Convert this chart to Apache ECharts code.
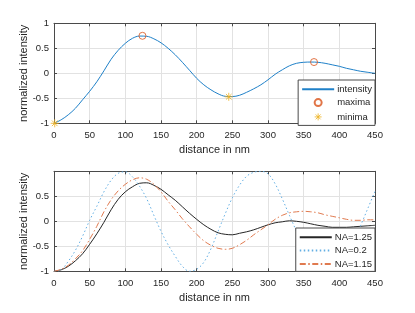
<!DOCTYPE html>
<html>
<head>
<meta charset="utf-8">
<script src="https://cdn.jsdelivr.net/npm/echarts@6/dist/echarts.min.js"></script>
<style>
html,body{margin:0;padding:0;background:#fff;}
#c{width:415px;height:313px;}
</style>
</head>
<body>
<div id="c"></div>
<script>
// ---------- data ----------
var xTicks = [0, 50, 100, 150, 200, 250, 300, 350, 400, 450];
var yTicks = [-1, -0.5, 0, 0.5, 1];

var distance = [0,10,20,30,40,50,60,70,80,90,100,110,120,130,140,150,160,170,180,190,200,
  210,220,230,240,250,260,270,280,290,300,310,320,330,340,350,360,370,380,390,400,
  410,420,430,440,450];

var intensity = [-1.00,-0.93,-0.83,-0.70,-0.53,-0.36,-0.17,0.05,0.28,0.46,0.60,0.70,0.745,0.74,0.69,0.61,0.50,0.37,0.22,0.06,-0.10,
  -0.23,-0.33,-0.41,-0.46,-0.465,-0.44,-0.38,-0.31,-0.23,-0.13,-0.02,0.07,0.15,0.20,0.22,0.225,0.22,0.20,0.17,0.14,
  0.10,0.07,0.04,0.02,0.00];

var maximaX = [124, 364.5];
var maximaY = [0.75, 0.225];
var minimaX = [1, 245];
var minimaY = [-1.00, -0.47];

var na125 = [-1.00,-0.97,-0.90,-0.79,-0.65,-0.46,-0.25,-0.02,0.23,0.44,0.59,0.69,0.76,0.77,0.72,0.64,0.53,0.42,0.29,0.16,0.04,
  -0.07,-0.16,-0.23,-0.26,-0.27,-0.24,-0.21,-0.17,-0.12,-0.07,-0.03,-0.01,0.01,0.00,-0.02,-0.05,-0.08,-0.10,-0.12,-0.12,
  -0.12,-0.11,-0.10,-0.09,-0.08];

var na02 = [-1.00,-0.97,-0.80,-0.58,-0.30,0.02,0.30,0.59,0.82,0.96,0.99,0.89,0.70,0.45,0.12,-0.20,-0.47,-0.70,-0.90,-1.00,-0.96,
  -0.82,-0.55,-0.20,0.15,0.47,0.72,0.90,0.98,1.00,0.95,0.75,0.45,0.12,-0.20,-0.50,-0.75,-0.92,-1.00,-0.97,-0.84,
  -0.64,-0.40,-0.08,0.26,0.60];

var na115 = [-1.00,-0.96,-0.88,-0.75,-0.59,-0.36,-0.10,0.19,0.43,0.61,0.74,0.83,0.87,0.84,0.74,0.59,0.40,0.23,0.05,-0.11,-0.26,
  -0.39,-0.48,-0.54,-0.56,-0.54,-0.47,-0.38,-0.27,-0.17,-0.07,0.04,0.12,0.17,0.19,0.20,0.19,0.17,0.13,0.10,0.07,
  0.04,0.02,0.02,0.03,0.03];

// ---------- helpers ----------
function pairs(xs, ys){ return xs.map(function(x,i){ return [x, ys[i]]; }); }

var FONT = 'Liberation Sans, Arial, Helvetica, sans-serif';
var TXT = '#262626';
var AX = '#4a4a4a';
var GRIDC = '#e2e2e2';
var STAR = 'path://M0,-5L0,5M-5,0L5,0M-3.5,-3.5L3.5,3.5M-3.5,3.5L3.5,-3.5';

function xMain(gi){
  return {
    type:'value', gridIndex:gi, min:xTicks[0], max:xTicks[xTicks.length-1], interval:xTicks[1]-xTicks[0],
    name:'distance in nm', nameLocation:'middle', nameGap:21, nameMoveOverlap:false,
    nameTextStyle:{fontFamily:FONT, fontSize:11, color:TXT},
    axisLine:{show:true, onZero:false, lineStyle:{color:AX, width:1}},
    axisTick:{show:true, inside:true, length:3, lineStyle:{color:AX}},
    axisLabel:{fontFamily:FONT, fontSize:9.5, color:TXT, margin:7},
    splitLine:{show:true, lineStyle:{color:GRIDC, width:1}}
  };
}
function xTop(gi){
  return {
    type:'value', gridIndex:gi, position:'top', min:xTicks[0], max:xTicks[xTicks.length-1], interval:xTicks[1]-xTicks[0],
    axisLine:{show:true, onZero:false, lineStyle:{color:AX, width:1}},
    axisTick:{show:true, inside:true, length:3, lineStyle:{color:AX}},
    axisLabel:{show:false}, splitLine:{show:false}
  };
}
function yMain(gi, hideTop){
  return {
    type:'value', gridIndex:gi, min:yTicks[0], max:yTicks[yTicks.length-1], interval:yTicks[1]-yTicks[0],
    name:'normalized intensity', nameLocation:'middle', nameGap:25, nameRotate:90, nameMoveOverlap:false,
    nameTextStyle:{fontFamily:FONT, fontSize:11, color:TXT},
    axisLine:{show:true, onZero:false, lineStyle:{color:AX, width:1}},
    axisTick:{show:true, inside:true, length:3, lineStyle:{color:AX}},
    axisLabel:{fontFamily:FONT, fontSize:9.5, color:TXT, margin:5,
      formatter:function(v){ if(hideTop && v===1) return ''; return String(v); }},
    splitLine:{show:true, lineStyle:{color:GRIDC, width:1}}
  };
}
function yRight(gi){
  return {
    type:'value', gridIndex:gi, position:'right', min:yTicks[0], max:yTicks[yTicks.length-1], interval:yTicks[1]-yTicks[0],
    axisLine:{show:true, onZero:false, lineStyle:{color:AX, width:1}},
    axisTick:{show:true, inside:true, length:3, lineStyle:{color:AX}},
    axisLabel:{show:false}, splitLine:{show:false}
  };
}

var legendBase = {
  orient:'vertical', itemWidth:32, itemHeight:7, itemGap:3.3,
  backgroundColor:'#fff', borderColor:AX, borderWidth:1, borderRadius:0,
  padding:[4.3,3,2.5,3],
  textStyle:{fontFamily:FONT, fontSize:9.5, lineHeight:10, color:TXT, padding:[0,0,0,-2]}
};
var hideSym = {opacity:0};

var option = {
  animation:false,
  backgroundColor:'#fff',
  grid:[
    {left:54, top:23.3, width:321, height:100},
    {left:54, top:171.3, width:321, height:100}
  ],
  xAxis:[xMain(0), xTop(0), xMain(1), xTop(1)],
  yAxis:[yMain(0,false), yRight(0), yMain(1,true), yRight(1)],
  legend:[
    Object.assign({}, legendBase, {right:40, top:80, data:[
      {name:'intensity', itemStyle:hideSym},
      {name:'maxima'},
      {name:'minima', icon:STAR, itemStyle:{color:'none', borderColor:'#EDB120', borderWidth:1}}
    ]}),
    Object.assign({}, legendBase, {right:40, top:228, data:[
      {name:'NA=1.25', itemStyle:hideSym},
      {name:'NA=0.2', itemStyle:hideSym},
      {name:'NA=1.15', itemStyle:hideSym}
    ]})
  ],
  series:[
    {name:'intensity', type:'line', xAxisIndex:0, yAxisIndex:0, data:pairs(distance,intensity),
     smooth:0.35, symbol:'none', lineStyle:{color:'#1f80c8', width:1}, itemStyle:{color:'#1f80c8'}, z:2},
    {name:'maxima', type:'scatter', xAxisIndex:0, yAxisIndex:0, data:pairs(maximaX,maximaY),
     symbol:'circle', symbolSize:7, itemStyle:{color:'rgba(0,0,0,0)', borderColor:'#D95319', borderWidth:1}, z:3},
    {name:'minima', type:'scatter', xAxisIndex:0, yAxisIndex:0, data:pairs(minimaX,minimaY),
     symbol:STAR, symbolSize:8, itemStyle:{color:'rgba(0,0,0,0)', borderColor:'#EDB120', borderWidth:1}, z:3},

    {name:'NA=1.25', type:'line', xAxisIndex:2, yAxisIndex:2, data:pairs(distance,na125),
     smooth:0.35, symbol:'none', lineStyle:{color:'#262626', width:1}, itemStyle:{color:'#262626'}, z:2},
    {name:'NA=0.2', type:'line', xAxisIndex:2, yAxisIndex:2, data:pairs(distance,na02),
     smooth:0.35, symbol:'none', lineStyle:{color:'#62aee3', width:1, type:[1.5,2.5]}, itemStyle:{color:'#62aee3'}, z:2},
    {name:'NA=1.15', type:'line', xAxisIndex:2, yAxisIndex:2, data:pairs(distance,na115),
     smooth:0.35, symbol:'none', lineStyle:{color:'#e07a4f', width:1, type:[6,2.5,1.5,2.5]}, itemStyle:{color:'#e07a4f'}, z:2}
  ]
};

var chart = echarts.init(document.getElementById('c'), null, {renderer:'canvas'});
chart.setOption(option);
</script>
</body>
</html>
